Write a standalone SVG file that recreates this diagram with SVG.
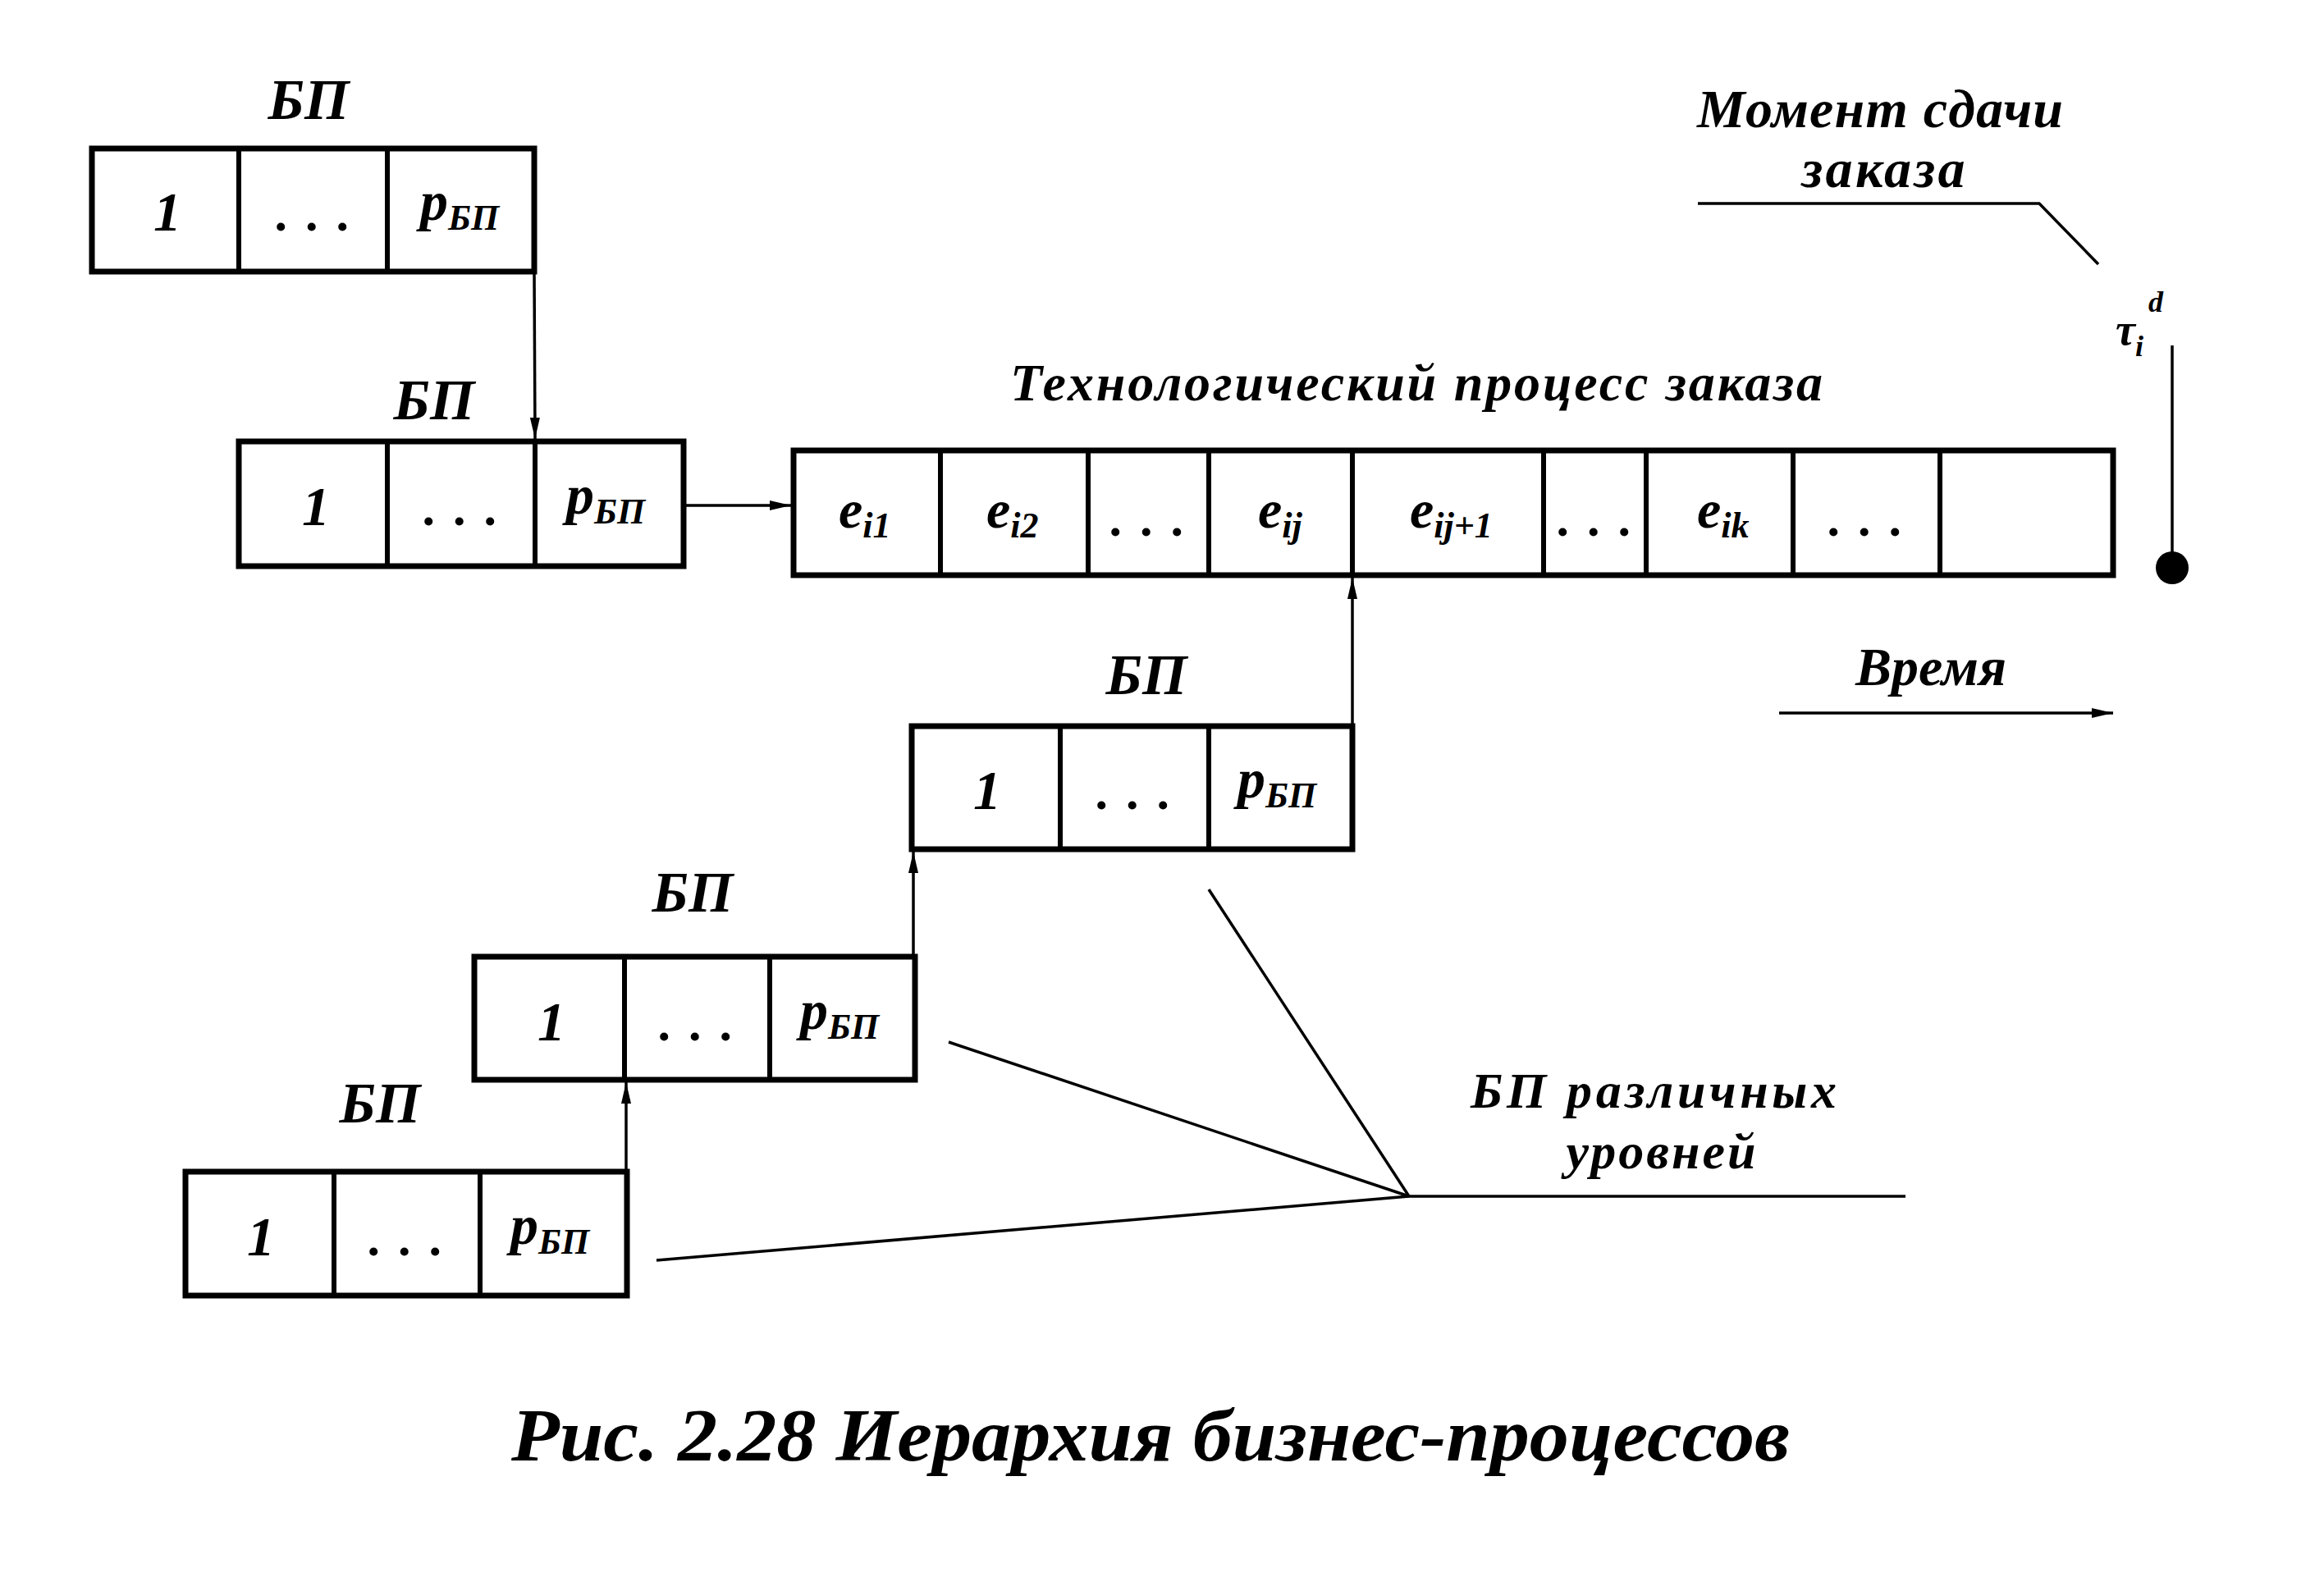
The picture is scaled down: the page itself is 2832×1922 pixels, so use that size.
<svg xmlns="http://www.w3.org/2000/svg" width="2832" height="1922" viewBox="0 0 2832 1922">
<style>
.bg{fill:#fff}
.box{fill:none;stroke:#000;stroke-width:7}
.dv{stroke:#000;stroke-width:6}
.ln{stroke:#000;stroke-width:3.5;fill:none}
.t{font-family:"Liberation Serif",serif;font-style:italic;font-weight:bold;fill:#000}
.lbl{font-size:70px;text-anchor:middle}
.num{font-size:68px;text-anchor:middle}
.sub{font-size:44px}
.dots{font-size:62px;text-anchor:middle;letter-spacing:22px}
.big{font-size:66px;text-anchor:middle}
</style>
<defs>
<marker id="ah" markerWidth="26" markerHeight="12" refX="26" refY="6" orient="auto" markerUnits="userSpaceOnUse"><path d="M0,0 L26,6 L0,12 z" fill="#000"/></marker>
</defs>
<rect class="bg" x="0" y="0" width="2832" height="1922"/>

<g id="bp1">
<text class="t lbl" x="376" y="145">БП</text>
<rect class="box" x="112" y="181" width="539" height="150"/>
<line class="dv" x1="291" y1="181" x2="291" y2="331"/>
<line class="dv" x1="472" y1="181" x2="472" y2="331"/>
<text class="t num" x="204" y="281">1</text>
<text class="t dots" x="393" y="281">...</text>
<text class="t" x="512" y="268" font-size="68">p<tspan class="sub" dy="12">БП</tspan></text>
</g>

<g id="bp2">
<text class="t lbl" x="529" y="511">БП</text>
<rect class="box" x="291" y="538" width="542" height="152"/>
<line class="dv" x1="472" y1="538" x2="472" y2="690"/>
<line class="dv" x1="652" y1="538" x2="652" y2="690"/>
<text class="t num" x="385" y="640">1</text>
<text class="t dots" x="573" y="640">...</text>
<text class="t" x="690" y="626" font-size="68">p<tspan class="sub" dy="12">БП</tspan></text>
</g>

<g id="tech">
<text class="t" x="1726" y="488" font-size="64" text-anchor="middle" textLength="990" lengthAdjust="spacing">Технологический процесс заказа</text>
<rect class="box" x="967" y="549" width="1608" height="152"/>
<line class="dv" x1="1146" y1="549" x2="1146" y2="701"/>
<line class="dv" x1="1326" y1="549" x2="1326" y2="701"/>
<line class="dv" x1="1473" y1="549" x2="1473" y2="701"/>
<line class="dv" x1="1648" y1="549" x2="1648" y2="701"/>
<line class="dv" x1="1881" y1="549" x2="1881" y2="701"/>
<line class="dv" x1="2006" y1="549" x2="2006" y2="701"/>
<line class="dv" x1="2185" y1="549" x2="2185" y2="701"/>
<line class="dv" x1="2364" y1="549" x2="2364" y2="701"/>
<text class="t" x="1022" y="643" font-size="66">e<tspan class="sub" dy="12">i1</tspan></text>
<text class="t" x="1202" y="643" font-size="66">e<tspan class="sub" dy="12">i2</tspan></text>
<text class="t dots" x="1410" y="653">...</text>
<text class="t" x="1533" y="643" font-size="66">e<tspan class="sub" dy="12">ij</tspan></text>
<text class="t" x="1718" y="643" font-size="66">e<tspan class="sub" dy="12">ij+1</tspan></text>
<text class="t dots" x="1955" y="653">...</text>
<text class="t" x="2068" y="643" font-size="66">e<tspan class="sub" dy="12">ik</tspan></text>
<text class="t dots" x="2285" y="653">...</text>
</g>

<g id="deadline">
<text class="t big" x="2291" y="155" textLength="446" lengthAdjust="spacing">Момент сдачи</text>
<text class="t big" x="2295" y="228" textLength="199" lengthAdjust="spacing">заказа</text>
<text class="t" x="2578" y="420" font-size="54">τ<tspan font-size="36" dy="14">i</tspan><tspan font-size="36" dx="6" dy="-54">d</tspan></text>
<line class="ln" x1="2647" y1="421" x2="2647" y2="690"/>
<circle cx="2647" cy="692" r="20" fill="#000"/>
</g>

<g id="time">
<text class="t big" x="2353" y="835" textLength="184" lengthAdjust="spacing">Время</text>
</g>

<g id="bp3">
<text class="t lbl" x="1397" y="846">БП</text>
<rect class="box" x="1111" y="885" width="537" height="150"/>
<line class="dv" x1="1292" y1="885" x2="1292" y2="1035"/>
<line class="dv" x1="1473" y1="885" x2="1473" y2="1035"/>
<text class="t num" x="1203" y="986">1</text>
<text class="t dots" x="1393" y="986">...</text>
<text class="t" x="1508" y="972" font-size="68">p<tspan class="sub" dy="12">БП</tspan></text>
</g>

<g id="bp4">
<text class="t lbl" x="844" y="1111">БП</text>
<rect class="box" x="578" y="1166" width="537" height="150"/>
<line class="dv" x1="761" y1="1166" x2="761" y2="1316"/>
<line class="dv" x1="938" y1="1166" x2="938" y2="1316"/>
<text class="t num" x="672" y="1268">1</text>
<text class="t dots" x="860" y="1268">...</text>
<text class="t" x="975" y="1254" font-size="68">p<tspan class="sub" dy="12">БП</tspan></text>
</g>

<g id="bp5">
<text class="t lbl" x="463" y="1368">БП</text>
<rect class="box" x="226" y="1428" width="538" height="151"/>
<line class="dv" x1="407" y1="1428" x2="407" y2="1579"/>
<line class="dv" x1="585" y1="1428" x2="585" y2="1579"/>
<text class="t num" x="318" y="1530">1</text>
<text class="t dots" x="506" y="1530">...</text>
<text class="t" x="622" y="1516" font-size="68">p<tspan class="sub" dy="12">БП</tspan></text>
</g>

<g id="levels">
<text class="t" x="2015" y="1350" font-size="62" text-anchor="middle" textLength="446" lengthAdjust="spacing">БП различных</text>
<text class="t" x="2024" y="1424" font-size="62" text-anchor="middle" textLength="231" lengthAdjust="spacing">уровней</text>
</g>

<g id="caption">
<text class="t" x="1402" y="1780" font-size="90" text-anchor="middle" textLength="1558" lengthAdjust="spacingAndGlyphs">Рис. 2.28 Иерархия бизнес-процессов</text>
</g>

<g id="connectors">
<line class="ln" x1="651" y1="331" x2="652" y2="535" marker-end="url(#ah)"/>
<line class="ln" x1="833" y1="616" x2="964" y2="616" marker-end="url(#ah)"/>
<line class="ln" x1="1648" y1="885" x2="1648" y2="704" marker-end="url(#ah)"/>
<line class="ln" x1="1113" y1="1166" x2="1113" y2="1038" marker-end="url(#ah)"/>
<line class="ln" x1="763" y1="1428" x2="763" y2="1319" marker-end="url(#ah)"/>
<line class="ln" x1="2168" y1="869" x2="2575" y2="869" marker-end="url(#ah)"/>
<polyline class="ln" points="2069,248 2485,248 2557,322"/>
<line class="ln" x1="800" y1="1536" x2="1717" y2="1458" stroke-width="4.5"/>
<line class="ln" x1="1156" y1="1270" x2="1717" y2="1458"/>
<line class="ln" x1="1473" y1="1084" x2="1717" y2="1458"/>
<line class="ln" x1="1717" y1="1458" x2="2322" y2="1458"/>
</g>
</svg>
